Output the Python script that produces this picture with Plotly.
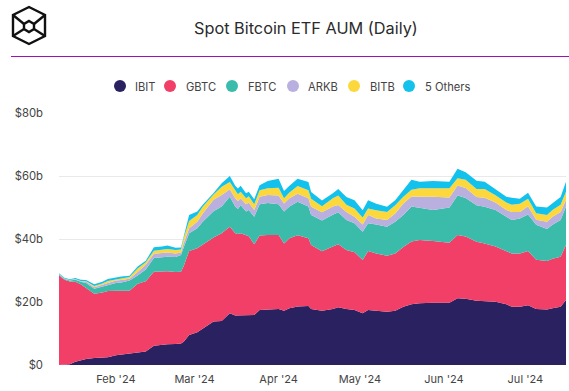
import plotly.graph_objects as go

dates = ["2024-01-11","2024-01-13","2024-01-15","2024-01-17","2024-01-19","2024-01-21","2024-01-24","2024-01-27","2024-01-29","2024-02-01",
"2024-02-03","2024-02-06","2024-02-09","2024-02-12","2024-02-15","2024-02-18","2024-02-20","2024-02-23","2024-02-25","2024-02-26",
"2024-02-28","2024-03-02","2024-03-04","2024-03-08","2024-03-11","2024-03-14","2024-03-16","2024-03-17","2024-03-18","2024-03-20",
"2024-03-21","2024-03-23","2024-03-25","2024-03-28","2024-04-01","2024-04-03","2024-04-05","2024-04-08","2024-04-12","2024-04-13",
"2024-04-17","2024-04-21","2024-04-23","2024-04-26","2024-04-29","2024-05-02","2024-05-04","2024-05-07","2024-05-11","2024-05-14",
"2024-05-17","2024-05-20","2024-05-23","2024-05-28","2024-06-03","2024-06-06","2024-06-09","2024-06-13","2024-06-16","2024-06-20",
"2024-06-24","2024-06-26","2024-06-29","2024-07-02","2024-07-05","2024-07-09","2024-07-11","2024-07-14","2024-07-16"]

IBIT = [0,0,0.2,1.0,1.5,1.9,2.2,2.3,2.5,3.1,
3.3,3.5,3.9,4.3,6.1,6.5,6.6,6.7,6.8,7.4,
9.5,10.4,11.6,13.8,14.0,16.4,15.7,15.7,15.7,15.9,
15.9,15.9,17.5,17.7,17.8,17.2,18.0,18.6,18.7,17.8,
17.2,17.8,18.3,17.8,17.5,16.4,17.5,17.2,16.9,17.2,
18.5,19.3,19.6,19.8,19.8,21.2,21.0,20.4,20.3,20.1,
19.3,18.5,18.5,19.0,17.8,17.6,18.0,18.5,20.6]
GBTC = [28.5,27.1,26.3,25.4,24.1,22.6,20.4,20.7,21.0,20.5,
20.3,20.1,21.9,22.3,23.5,23.3,23.2,22.8,22.8,24.0,
26.7,26.7,26.7,26.7,27.8,27.5,26.1,25.9,26.1,25.4,
25.0,22.4,23.6,23.6,23.5,21.4,22.2,22.6,21.5,20.3,
18.9,19.8,20.0,18.7,18.3,16.9,18.7,18.2,17.8,18.2,
19.0,19.9,20.1,19.6,19.0,20.1,19.8,18.7,18.3,17.5,
16.9,16.9,16.9,17.2,15.6,15.4,15.7,15.9,17.5]
FBTC = [0.2,0.2,0.3,0.7,0.8,1.5,1.6,1.9,2.0,2.4,
2.6,3.2,2.6,3.7,4.4,4.4,4.6,4.8,5.3,6.0,
5.6,6.3,7.2,8.3,8.5,9.5,8.5,7.9,9.0,7.4,
8.3,8.8,9.9,10.1,9.7,10.1,10.1,10.6,10.1,9.5,
9.8,10.1,10.2,9.5,9.2,9.0,8.8,9.2,9.2,10.1,
10.1,11.1,10.1,9.8,11.2,12.5,12.2,11.6,11.6,11.6,
10.9,10.6,11.1,11.6,11.1,10.2,10.8,11.6,12.2]
ARKB = [0.1,0.1,0.1,0.1,0.2,0.4,0.5,0.5,0.6,0.8,
0.8,0.6,1.1,1.5,1.3,1.2,1.3,1.1,0.8,1.3,
1.6,2.1,2.6,3.7,3.7,2.4,2.6,2.6,2.1,2.3,
2.4,2.1,2.4,2.6,2.8,2.6,2.6,2.6,2.6,2.6,
2.6,2.6,2.3,2.6,2.1,2.3,2.6,1.9,2.1,2.6,
3.7,3.2,3.7,4.2,3.2,3.2,3.2,2.6,2.9,2.4,
2.1,2.6,2.1,2.6,1.6,2.3,2.6,2.6,2.1]
BITB = [0.1,0.1,0.1,0.1,0.1,0.2,0.4,0.5,0.6,0.4,
0.5,0.5,1.1,0.8,1.0,1.1,1.1,1.1,1.0,1.6,
2.3,2.1,2.1,1.6,2.6,2.3,2.6,2.1,2.1,1.9,
2.0,1.8,2.1,2.1,2.5,1.6,1.9,2.4,2.6,2.6,
1.9,2.6,3.0,2.3,2.6,2.2,2.1,2.6,2.6,2.6,
2.1,2.1,2.6,2.6,2.9,2.3,2.6,2.6,2.8,2.3,
2.4,2.3,2.6,2.4,2.1,2.1,2.1,2.3,2.6]
OTHERS = [0.2,0.2,0.2,0.3,0.4,0.4,0.5,0.5,0.6,0.6,
0.6,0.4,0.7,0.5,1.1,1.1,1.1,0.7,0.6,0.5,
1.9,1.1,0.7,0.5,1.1,1.9,1.4,1.8,1.9,1.6,
1.4,1.6,1.6,2.3,2.8,2.3,2.1,2.3,2.6,2.1,
1.8,1.6,2.1,2.4,2.6,2.3,2.6,2.1,1.6,1.6,
2.1,3.2,2.1,2.4,2.1,3.0,2.4,2.6,2.3,1.9,
1.8,2.2,1.6,1.9,2.1,2.4,2.1,2.4,3.2]

series_names = ["IBIT","GBTC","FBTC","ARKB","BITB","5 Others"]
series_values = [IBIT,GBTC,FBTC,ARKB,BITB,OTHERS]
colors = ["#2a2160","#f23f68","#3bbcab","#b9b0e0","#fdd83c","#12c1ec"]

x_tick_vals = ["2024-02-01","2024-03-01","2024-04-01","2024-05-01","2024-06-01","2024-07-01"]
x_tick_text = ["Feb '24","Mar '24","Apr '24","May '24","Jun '24","Jul '24"]
y_tick_vals = [0,20,40,60,80]
y_tick_text = ["$0","$20b","$40b","$60b","$80b"]

W, H = 569, 391
ML, MR, MT, MB = 59, 3, 113, 26
FONT = "Inter, 'Open Sans', sans-serif"
TXT = "#444444"
def X(p): return (p - ML) / (W - ML - MR)
def Y(p): return 1 - (p - MT) / (H - MT - MB)

fig = go.Figure()
for n, v, c in zip(series_names, series_values, colors):
    fig.add_trace(go.Scatter(x=dates, y=v, name=n, mode="lines", stackgroup="one",
                             line=dict(width=0, color=c), fillcolor=c, showlegend=False))

shapes, annotations = [], []
paper = dict(xref="paper", yref="paper")
shapes.append(dict(type="line", x0=X(11), x1=X(569), y0=Y(56.5), y1=Y(56.5),
                   line=dict(color="#a010b8", width=1), **paper))
def path(pts, close=False):
    s = "M" + " L".join(f"{X(a):.5f},{Y(b):.5f}" for a, b in pts)
    return s + (" Z" if close else "")
logo_paths = [
    path([(29,7),(45,15),(45,36),(29,44),(13,36),(13,15)], True),
    path([(29,21),(34,24),(34,29),(29,32),(24,29),(24,24)], True),
    path([(13,15),(24,24)]), path([(45,15),(34,24)]),
    path([(13,36),(24,29)]), path([(45,36),(34,29)]),
]
for p in logo_paths:
    shapes.append(dict(type="path", path=p, line=dict(color="#111", width=2.4), **paper))
annotations.append(dict(text="Spot Bitcoin ETF AUM (Daily)", x=X(306), y=Y(28), showarrow=False,
                        xanchor="center", yanchor="middle", font=dict(family=FONT, size=16.3, color="#2b2b2b"), **paper))
legend_dots = [120,170,232,293,354,409]
legend_text = [133,184,246,306,368,423]
for n, c, dx, tx in zip(series_names, colors, legend_dots, legend_text):
    shapes.append(dict(type="circle", x0=X(dx-6), x1=X(dx+6), y0=Y(86+6), y1=Y(86-6),
                       fillcolor=c, line=dict(width=0), **paper))
    annotations.append(dict(text=n, x=X(tx), y=Y(87), showarrow=False, xanchor="left", yanchor="middle",
                            font=dict(family=FONT, size=11.2, color=TXT), **paper))

fig.update_layout(
    width=W, height=H, autosize=False,
    margin=dict(l=ML, r=MR, t=MT, b=MB),
    paper_bgcolor="white", plot_bgcolor="white",
    shapes=shapes, annotations=annotations,
    xaxis=dict(range=["2024-01-11","2024-07-16"], tickmode="array", tickvals=x_tick_vals, ticktext=x_tick_text,
               showgrid=False, zeroline=False, showline=False, ticks="", ticklabelstandoff=6,
               tickfont=dict(family=FONT, size=11, color=TXT)),
    yaxis=dict(range=[0,80], tickmode="array", tickvals=y_tick_vals, ticktext=y_tick_text,
               showgrid=True, gridcolor="#e9e9e9", gridwidth=1, zeroline=False, showline=False, ticks="",
               ticklabelstandoff=15, tickfont=dict(family=FONT, size=11.3, color=TXT)),
)
fig.write_html("out.html", config={"displayModeBar": False}, post_script="document.body.style.margin='0';")
